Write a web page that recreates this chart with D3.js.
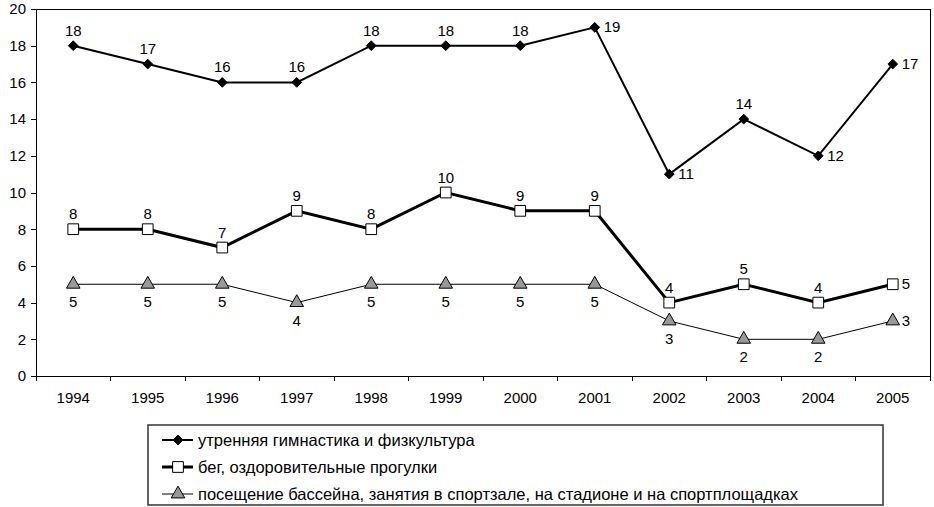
<!DOCTYPE html>
<html>
<head>
<meta charset="utf-8">
<script src="https://cdn.jsdelivr.net/npm/d3@7"></script>
<style>
  body { margin: 0; background: #fff; }
  svg { display: block; font-family: Arial, "Liberation Sans", sans-serif; }
</style>
</head>
<body>
<div class="svgContainer"></div>
<script>
// Data
var YEARS = ["1994", "1995", "1996", "1997", "1998", "1999", "2000", "2001", "2002", "2003", "2004", "2005"];
var GYM = [18, 17, 16, 16, 18, 18, 18, 19, 11, 14, 12, 17];
var RUN = [8, 8, 7, 9, 8, 10, 9, 9, 4, 5, 4, 5];
var POOL = [5, 5, 5, 4, 5, 5, 5, 5, 3, 2, 2, 3];
// where each value label sits: a = above, b = below, r = right
var GYM_LBL = ["a", "a", "a", "a", "a", "a", "a", "r", "r", "a", "r", "r"];
var RUN_LBL = ["a", "a", "a", "a", "a", "a", "a", "a", "a", "a", "a", "r"];
var POOL_LBL = ["b", "b", "b", "b", "b", "b", "b", "b", "b", "b", "b", "r"];
var NAMES = ["утренняя гимнастика и физкультура", "бег, оздоровительные прогулки",
             "посещение бассейна, занятия в спортзале, на стадионе и на спортплощадках"];
var Y_TICKS = [0, 2, 4, 6, 8, 10, 12, 14, 16, 18, 20];

var W = 934, H = 507;
var plot = {left: 36, right: 930, top: 9, bottom: 376};
var FS = 15;

var svg = d3.select(".svgContainer").append("svg")
    .attr("width", W)
    .attr("height", H);

var scaleX = d3.scaleBand()
    .domain(YEARS)
    .range([plot.left, plot.right]);

var scaleY = d3.scaleLinear()
    .domain([0, 20])
    .range([plot.bottom, plot.top]);

// plot frame
svg.append("rect")
    .attr("x", plot.left).attr("y", plot.top)
    .attr("width", plot.right - plot.left).attr("height", plot.bottom - plot.top)
    .attr("fill", "none").attr("stroke", "#000").attr("stroke-width", 1)
    .attr("shape-rendering", "crispEdges");

// axes
var yAxis = svg.append("g")
    .attr("transform", "translate(" + plot.left + ",0)")
    .call(d3.axisLeft(scaleY).tickValues(Y_TICKS).tickSize(5).tickPadding(5));
var xAxis = svg.append("g")
    .attr("transform", "translate(0," + plot.bottom + ")")
    .call(d3.axisBottom(scaleX).tickSize(0).tickPadding(16));

// x ticks sit between categories
svg.selectAll(".xtick")
    .data(d3.range(YEARS.length + 1))
    .enter().append("line")
    .attr("x1", function(i) { return plot.left + i * scaleX.step(); })
    .attr("x2", function(i) { return plot.left + i * scaleX.step(); })
    .attr("y1", plot.bottom).attr("y2", plot.bottom + 5)
    .attr("stroke", "#000")
    .attr("shape-rendering", "crispEdges");

[yAxis, xAxis].forEach(function(ax) {
    ax.attr("font-size", FS).attr("font-family", "Arial, 'Liberation Sans', sans-serif");
    ax.selectAll("text").attr("fill", "#000");
    ax.selectAll("path, line").attr("stroke", "#000").attr("shape-rendering", "crispEdges");
});

function cx(i) { return scaleX(YEARS[i]) + scaleX.bandwidth() / 2; }

var series = [
    {values: GYM, labels: GYM_LBL, width: 2, symbol: d3.symbolDiamond2, size: 60, fill: "#000"},
    {values: RUN, labels: RUN_LBL, width: 3, symbol: d3.symbolSquare, size: 115, fill: "#fff"},
    {values: POOL, labels: POOL_LBL, width: 1, symbol: d3.symbolTriangle, size: 80, fill: "#999"}
];

var line = d3.line()
    .x(function(d, i) { return cx(i); })
    .y(function(d) { return scaleY(d); });

series.forEach(function(s) {
    svg.append("path")
        .attr("d", line(s.values))
        .attr("fill", "none")
        .attr("stroke", "#000")
        .attr("stroke-width", s.width);
});

series.forEach(function(s) {
    svg.append("g").selectAll("path")
        .data(s.values)
        .enter().append("path")
        .attr("d", d3.symbol().type(s.symbol).size(s.size))
        .attr("transform", function(d, i) { return "translate(" + cx(i) + "," + scaleY(d) + ")"; })
        .attr("fill", s.fill)
        .attr("stroke", "#000")
        .attr("stroke-width", 1);

    svg.append("g").selectAll("text")
        .data(s.values)
        .enter().append("text")
        .attr("x", function(d, i) { return s.labels[i] === "r" ? cx(i) + 9 : cx(i); })
        .attr("y", function(d, i) {
            var y = scaleY(d);
            if (s.labels[i] === "a") return y - 10;
            if (s.labels[i] === "b") return y + 23;
            return y + 5;
        })
        .attr("text-anchor", function(d, i) { return s.labels[i] === "r" ? "start" : "middle"; })
        .attr("font-size", FS)
        .text(function(d) { return d; });
});

// legend
var leg = {x: 148, y: 425, w: 735, h: 80};
svg.append("rect")
    .attr("x", leg.x).attr("y", leg.y)
    .attr("width", leg.w).attr("height", leg.h)
    .attr("fill", "#fff").attr("stroke", "#333").attr("stroke-width", 1.5);

var items = svg.append("g").selectAll("g")
    .data(series)
    .enter().append("g")
    .attr("transform", function(d, i) { return "translate(" + (leg.x + 14) + "," + (leg.y + 15 + i * 27) + ")"; });

items.append("line")
    .attr("x1", 0).attr("x2", 31)
    .attr("stroke", "#000")
    .attr("stroke-width", function(d) { return d.width; });

items.append("path")
    .attr("d", function(d) { return d3.symbol().type(d.symbol).size(d.size)(); })
    .attr("transform", "translate(16,0)")
    .attr("fill", function(d) { return d.fill; })
    .attr("stroke", "#000");

items.append("text")
    .attr("x", 36).attr("y", 5.5)
    .attr("font-size", 16.5)
    .text(function(d, i) { return NAMES[i]; });
</script>
</body>
</html>
